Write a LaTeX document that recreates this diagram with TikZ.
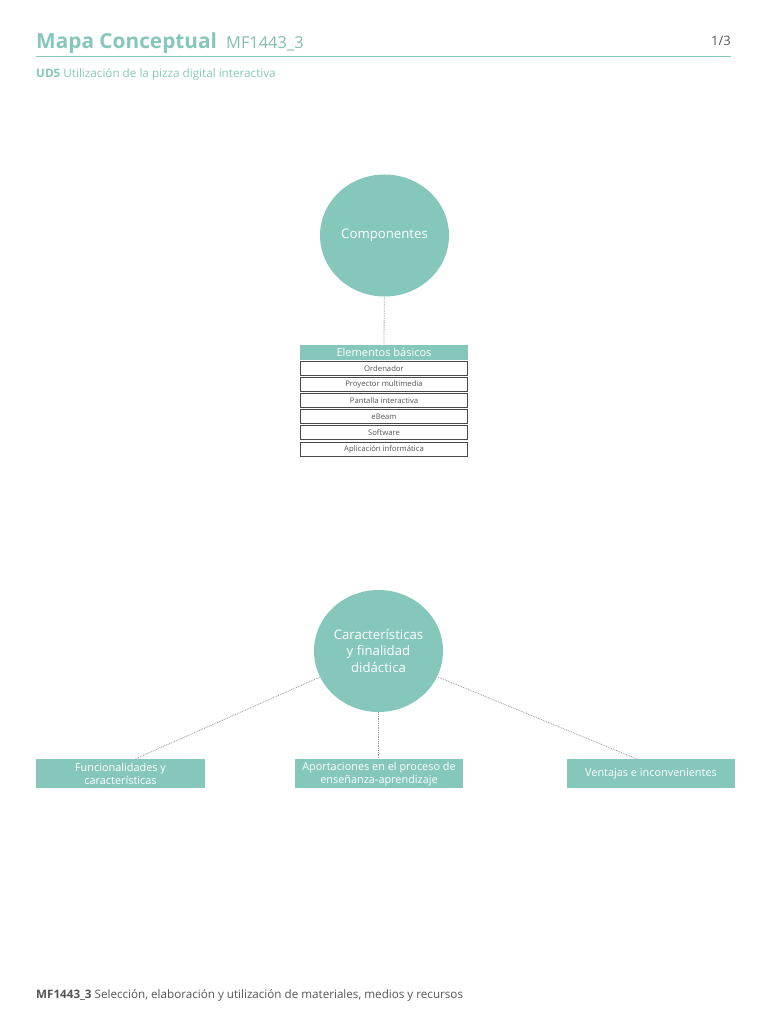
\documentclass[tikz,border=0pt]{standalone}
\usepackage{fontspec}
\setmainfont{Open Sans}
\usetikzlibrary{shapes.geometric,calc}
\definecolor{teal1}{HTML}{85C8BB}
\definecolor{greytext}{HTML}{555555}
\definecolor{rowline}{HTML}{4A4A4A}
\newcommand\dnshift[1]{\raisebox{-0.3pt}[\height][\depth]{#1}}
\tikzset{
  bubble/.style={ellipse,fill=teal1,text=white,minimum width=129pt,minimum height=122pt,inner sep=0pt,align=center,font=\fontsize{13.2}{16.4}\selectfont},
  tealbox/.style={fill=teal1,text=white,minimum width=168.5pt,minimum height=29pt,inner sep=0pt,align=center,font=\fontsize{10.9}{13.2}\selectfont},
  headbox/.style={fill=teal1,text=white,minimum width=168.5pt,minimum height=15.5pt,inner sep=0pt,font=\fontsize{11}{12}\selectfont},
  rowbox/.style={draw=rowline,line width=0.8pt,fill=white,text=greytext,minimum width=167.5pt,minimum height=14pt,inner sep=0pt,font=\fontsize{7.7}{8}\selectfont},
  link/.style={draw=gray!75,line width=0.8pt,dash pattern=on 0.9pt off 0.9pt},
  plain/.style={inner sep=0pt,anchor=base west}
}
\begin{document}
\begin{tikzpicture}[x=1pt,y=-1pt]
\useasboundingbox (0,0) rectangle (768,1024);
\node[plain,text=teal1,font=\fontsize{20.8}{24}\selectfont\bfseries] (title) at (36,49) {Mapa Conceptual};
\node[plain,text=teal1!85!gray,font=\fontsize{16.4}{18}\selectfont] (code) at (226,49) {MF1443\_3};
\coordinate (ruleL) at (36,56.5);
\coordinate (ruleR) at (731,56.5);
\draw[teal1,line width=0.8pt] (ruleL) -- (ruleR);
\node[plain,text=greytext,font=\fontsize{13}{15}\selectfont,anchor=base east] (page) at (731,45.5) {1/3};
\node[plain,text=teal1,font=\fontsize{11.7}{13}\selectfont] (ud) at (36,78) {\textbf{UD5} Utilización de la pizza digital interactiva};

\node[bubble] (c1) at (384.5,235.5) {Componentes};
\node[headbox] (eb) at (384,352.3) {\dnshift{Elementos básicos}};
\node[rowbox] (r1) at (384,368.5) {\dnshift{Ordenador}};
\node[rowbox] (r2) at (384,384.5) {\dnshift{Proyector multimedia}};
\node[rowbox] (r3) at (384,400.2) {\dnshift{Pantalla interactiva}};
\node[rowbox] (r4) at (384,416.5) {\dnshift{eBeam}};
\node[rowbox] (r5) at (384,432.7) {\dnshift{Software}};
\node[rowbox] (r6) at (384,449) {\dnshift{Aplicación informática}};
\draw[link] (c1) -- (eb);

\node[bubble] (c2) at (378.5,651) {Características\\y finalidad\\didáctica};
\node[tealbox] (f1) at (120.5,773.5) {\dnshift{Funcionalidades y}\\\dnshift{características}};
\node[tealbox] (f2) at (379,773.5) {\dnshift{Aportaciones en el proceso de}\\\dnshift{enseñanza-aprendizaje}};
\node[tealbox] (f3) at (651,773.5) {\dnshift{Ventajas e inconvenientes}};
\coordinate (f1top) at (135,759);
\coordinate (f2top) at (378.5,759);
\coordinate (f3top) at (637,759);
\draw[link] (c2) ++(-58.5,26) coordinate (c2l) -- (f1top);
\draw[link] (c2.south) -- (f2top);
\draw[link] (c2) ++(59.5,26) coordinate (c2r) -- (f3top);

\node[plain,text=greytext,font=\fontsize{11.65}{14}\selectfont] (foot) at (36,998) {\textbf{MF1443\_3} Selección, elaboración y utilización de materiales, medios y recursos};
\end{tikzpicture}
\end{document}
